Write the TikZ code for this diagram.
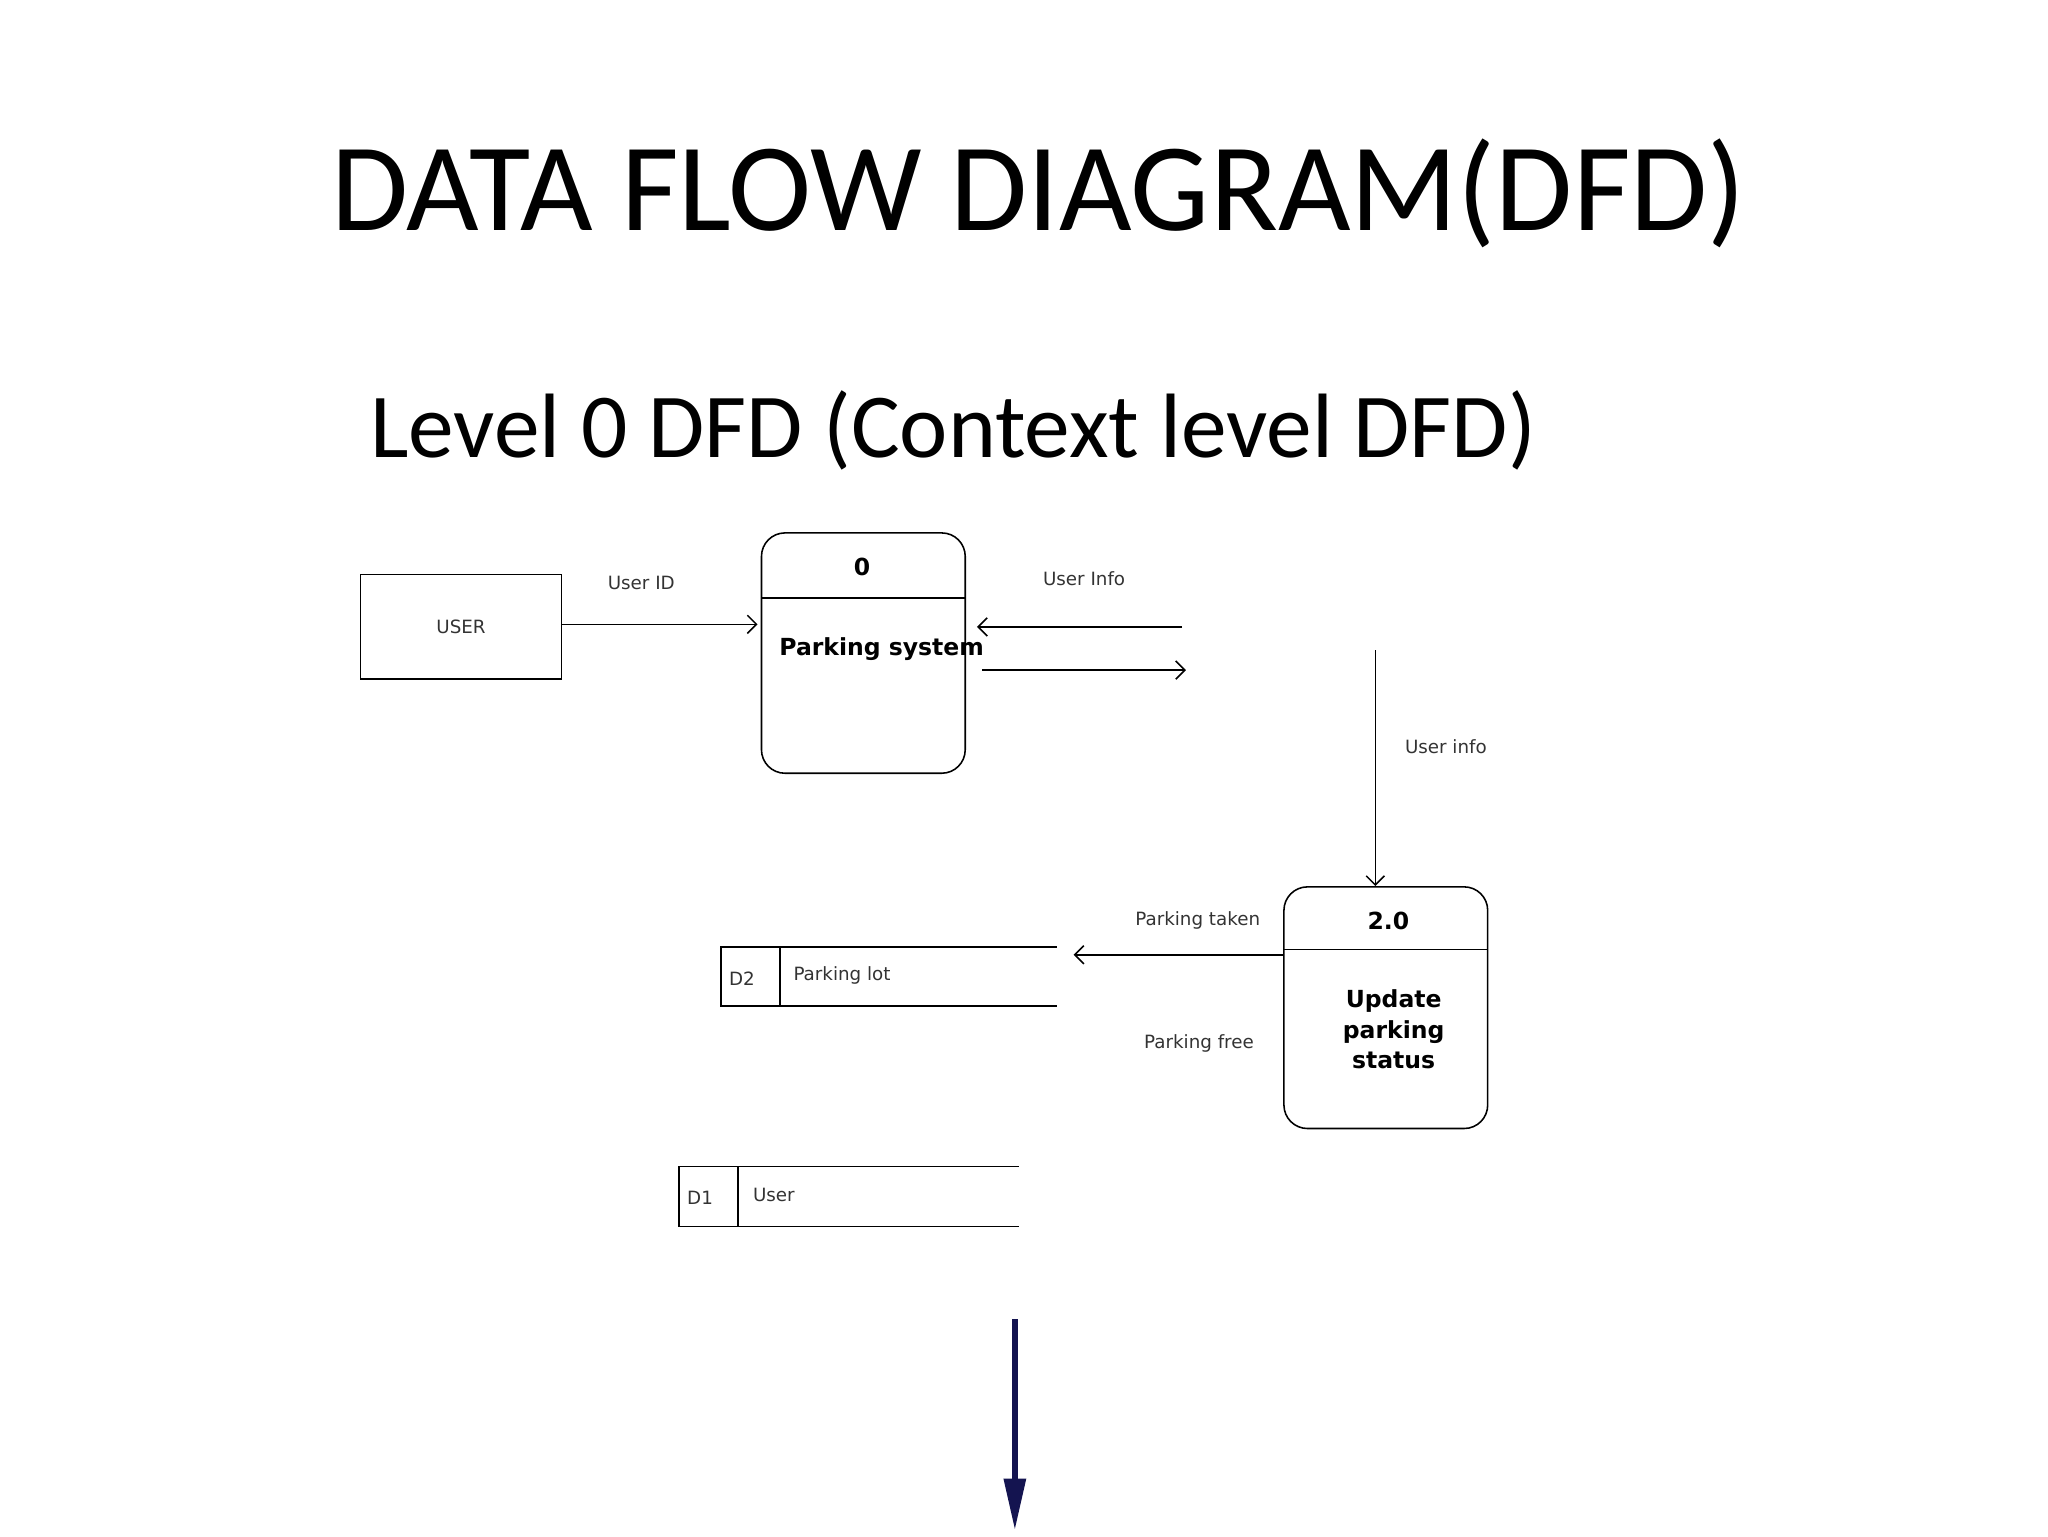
\documentclass[tikz,border=0pt]{standalone}
\usepackage{fontspec}
\setmainfont{Carlito}
\newfontfamily\dfdfont{DejaVu Sans}
\usetikzlibrary{arrows.meta,positioning}
\tikzset{
  flow/.style={draw, line width=1.2pt, -{Straight Barb[length=7pt,width=14pt]}},
  lbl/.style={font=\dfdfont\fontsize{14}{16}\selectfont, text=black!80},
  proc/.style={draw, line width=1.2pt, rounded corners=18pt, minimum width=156pt, minimum height=184pt, inner sep=0pt},
  ttl/.style={font=\dfdfont\bfseries\fontsize{18}{23}\selectfont},
}
\begin{document}
\begin{tikzpicture}[x=1pt,y=-1pt]
\useasboundingbox (0,0) rectangle (1568,1176);
% headings
\node[font=\fontsize{96}{104}\selectfont] (title) at (795,148) {DATA FLOW DIAGRAM(DFD)};
\node[font=\fontsize{70}{78}\selectfont, anchor=base west] (sub) at (280,350) {Level 0 DFD (Context level DFD)};
% external entity
\node[draw, line width=1.2pt, minimum width=154pt, minimum height=80pt, lbl] (user) at (353,480) {USER};
% process 0
\node[proc] (p0) at (661,500) {};
\draw[line width=1.2pt] (583,458) -- (739,458);
\node[ttl] (p0num) at (660,434) {0};
\node[ttl] (p0name) at (675,497) {Parking system};
% process 2.0
\node[proc, minimum height=185pt] (p2) at (1061,771.5) {};
\draw[line width=1.2pt] (983,727) -- (1139,727);
\node[ttl] (p2num) at (1063,705) {2.0};
\node[ttl, align=center] (p2name) at (1067,788) {Update\\parking\\status};
% data stores
\draw[line width=1.2pt] (809,725) -- (552,725) -- (552,770) -- (809,770);
\draw[line width=1.2pt] (597,725) -- (597,770);
\node[lbl] (d2id) at (568,749) {D2};
\node[lbl, anchor=west] (d2) at (604,747) {Parking lot};
\draw[line width=1.2pt] (780,893) -- (520,893) -- (520,939) -- (780,939);
\draw[line width=1.2pt] (565,893) -- (565,939);
\node[lbl] (d1id) at (536,917) {D1};
\node[lbl, anchor=west] (d1) at (573,915) {User};
% flows
\coordinate (infoin) at (905,480);
\coordinate (infoout) at (752,513);
\coordinate (infoend) at (908,513);
\coordinate (downtop) at (1053,498);
\coordinate (taken) at (822,731);
\draw[flow] (user.east |- 0,478) -- (580,478);
\draw[flow] (infoin) -- (748,480);
\draw[flow] (infoout) -- (infoend);
\draw[flow] (downtop) -- (p2.north -| downtop);
\draw[flow] (p2.west |- taken) -- (taken);
\node[lbl] (lid) at (491,446) {User ID};
\node[lbl] (linfo) at (830,443) {User Info};
\node[lbl] (linfo2) at (1107,572) {User info};
\node[lbl] (ltaken) at (917,705) {Parking taken};
\node[lbl] (lfree) at (918,799) {Parking free};
% next slide arrow
\coordinate (nexttop) at (777,1010);
\coordinate (nextend) at (777,1172);
\draw[line width=5pt, draw={rgb,255:red,20;green,20;blue,80}, -{Triangle[length=40pt,width=16pt]}] (nexttop) -- (nextend);
\end{tikzpicture}
\end{document}
